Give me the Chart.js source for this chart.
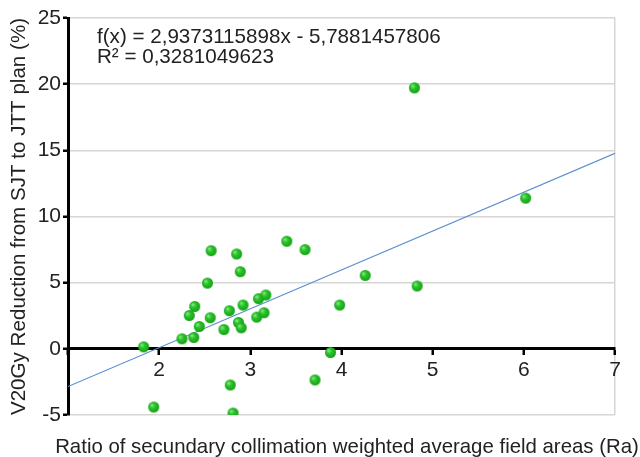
<!DOCTYPE html>
<html>
<head>
<meta charset="utf-8">
<script src="https://cdn.jsdelivr.net/npm/chart.js@4"></script>
<style>
  html,body{margin:0;padding:0;background:#fff;}
  #wrap{width:640px;height:457px;}
</style>
</head>
<body>
<div id="wrap"><canvas id="graph" width="640" height="457"></canvas></div>
<script>
// ratio Ra (x) and V20Gy reduction % (y)
var ratio = [1.83, 1.94, 2.25, 2.38, 2.44, 2.33, 2.39, 2.56, 2.53, 2.57, 2.85, 2.89, 2.71, 2.77, 2.87, 2.90,
             2.92, 3.07, 3.09, 3.17, 3.15, 3.40, 3.60, 2.78, 2.81, 3.71, 3.88, 3.98, 4.26, 4.80, 6.02, 4.83];
var reduction = [0.15, -4.4, 0.76, 0.86, 1.69, 2.52, 3.2, 2.35, 4.97, 7.42, 7.17, 5.83, 1.46, 2.88, 1.99, 1.59,
                 3.31, 2.40, 3.79, 4.07, 2.73, 8.13, 7.5, -2.73, -4.85, -2.35, -0.28, 3.31, 5.55, 19.72, 11.39, 4.75];

var slope = 2.9373115898;
var intercept = -5.7881457806;
var xTicks = [1, 2, 3, 4, 5, 6, 7];
var yTicks = [-5, 0, 5, 10, 15, 20, 25];
var equationLabel = 'f(x) = 2,9373115898x - 5,7881457806';
var r2Label = 'R\u00B2 = 0,3281049623';
var xTitle = 'Ratio of secundary collimation weighted average field areas (Ra)';
var yTitle = 'V20Gy Reduction from SJT to JTT plan (%)';

var FONT = '"Liberation Sans", Arial, sans-serif';

// shaded green ball used as point style
function ball(r){
    var c = document.createElement('canvas');
    c.width = c.height = r*2+2;
    var g = c.getContext('2d');
    var grad = g.createRadialGradient(r-1, r-1, 0.5, r+1, r+1, r+1);
    grad.addColorStop(0, '#7de87d');
    grad.addColorStop(0.35, '#2cc22c');
    grad.addColorStop(0.85, '#15a315');
    grad.addColorStop(1, '#0f8a0f');
    g.fillStyle = grad;
    g.beginPath();
    g.arc(r+1, r+1, r, 0, Math.PI*2);
    g.fill();
    return c;
}

var points = [];
for(var i=0;i<ratio.length;i++) points.push({x: ratio[i], y: reduction[i]});

var trend = [];
trend.push({x: xTicks[0], y: slope*xTicks[0] + intercept});
trend.push({x: xTicks[xTicks.length-1], y: slope*xTicks[xTicks.length-1] + intercept});

// regression label inside the plot + x axis title under it
var labels = {
    id: 'labels',
    afterDraw: function(chart){
        var ctx = chart.ctx, a = chart.chartArea;
        ctx.save();
        ctx.fillStyle = '#222';
        ctx.font = '20.6px ' + FONT;
        ctx.textBaseline = 'middle';
        ctx.textAlign = 'left';
        ctx.fillText(equationLabel, a.left + 29, a.top + 19);
        ctx.fillText(r2Label, a.left + 29, a.top + 39);

        ctx.font = '20.4px ' + FONT;
        ctx.textAlign = 'center';
        ctx.fillText(xTitle, chart.width/2 + 27, a.bottom + 32);
        ctx.restore();
    }
};

new Chart(document.getElementById('graph'), {
    type: 'scatter',
    data: {
        datasets: [{
            type: 'scatter',
            data: points,
            pointStyle: ball(5.5),
            pointRadius: 5.5,
            pointHoverRadius: 5.5,
            order: 0
        },{
            type: 'line',
            data: trend,
            borderColor: '#5a8fd0',
            borderWidth: 1.2,
            pointRadius: 0,
            fill: false,
            order: 1
        }]
    },
    plugins: [labels],
    options: {
        responsive: false,
        animation: false,
        events: [],
        layout: {padding: {top: 18, right: 25, bottom: 42, left: 0}},
        plugins: {
            legend: {display: false},
            tooltip: {enabled: false}
        },
        scales: {
            x: {
                type: 'linear',
                position: {y: 0},
                min: 1, max: 7,
                afterBuildTicks: function(s){ s.ticks = xTicks.map(function(v){ return {value: v}; }); },
                ticks: {
                    color: '#222',
                    font: {family: FONT, size: 21},
                    padding: 4,
                    callback: function(v){ return v === xTicks[0] ? '' : v; }
                },
                border: {color: '#000', width: 3},
                grid: {
                    color: function(c){ return c.tick && c.tick.value === xTicks[xTicks.length-1] ? '#d6d6d6' : 'rgba(0,0,0,0)'; },
                    lineWidth: 1.5,
                    tickColor: '#000',
                    tickWidth: 2.5,
                    tickLength: 5
                }
            },
            y: {
                type: 'linear',
                position: 'left',
                min: -5, max: 25,
                afterBuildTicks: function(s){ s.ticks = yTicks.map(function(v){ return {value: v}; }); },
                ticks: {
                    color: '#222',
                    font: {family: FONT, size: 21},
                    padding: 2
                },
                border: {color: '#000', width: 3},
                grid: {
                    color: '#d6d6d6',
                    lineWidth: 1.5,
                    tickColor: '#000',
                    tickWidth: 2.5,
                    tickLength: 5
                },
                title: {
                    display: true,
                    text: yTitle,
                    color: '#222',
                    font: {family: FONT, size: 20.6, lineHeight: 1},
                    padding: {top: 9, bottom: 0}
                },
                afterFit: function(s){ s.width = 68; }
            }
        }
    }
});
</script>
</body>
</html>
